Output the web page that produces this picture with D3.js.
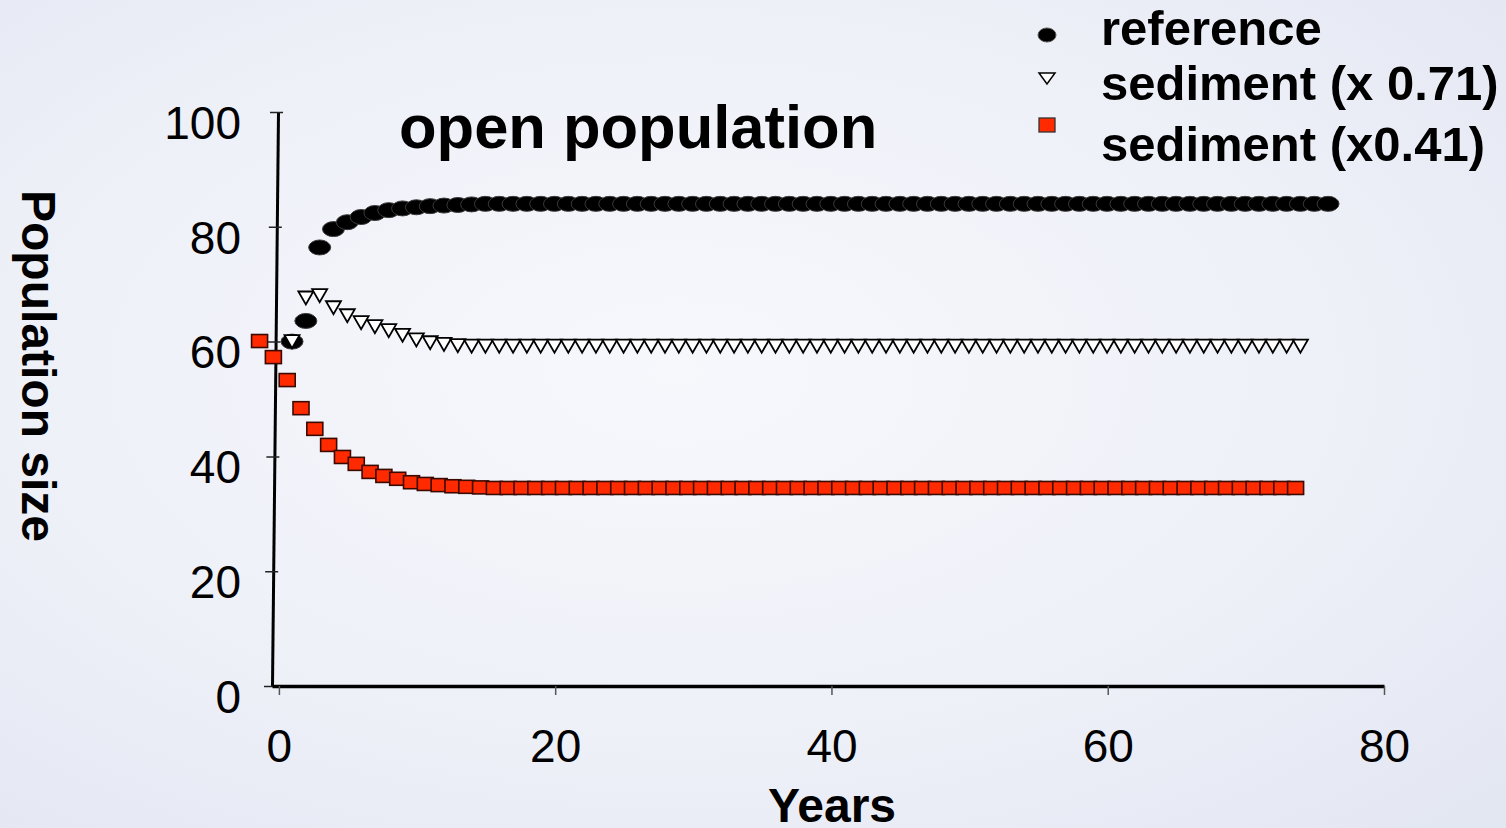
<!DOCTYPE html>
<html>
<head>
<meta charset="utf-8">
<script src="https://cdn.jsdelivr.net/npm/d3@7"></script>
<style>
  html, body { margin: 0; padding: 0; overflow: hidden; background: #fff; }
  #chart { width: 1506px; height: 828px; }
</style>
</head>
<body>
<div id="chart"></div>
<script>
// years of each series (yearly steps, offsets as they sit on the picture)
var referenceYears = d3.range(0.95, 76, 1);
var sediment71Years = d3.range(0.95, 74, 1);
var sediment41Years = d3.range(-1.4, 74, 1);

// population size
var referenceValues = [
  60.0, 63.6, 76.4, 79.6, 80.8, 81.7, 82.4, 82.9, 83.2, 83.4,
  83.6, 83.7, 83.8, 83.9, 84.0, 84.0, 84.0, 84.0, 84.0, 84.0,
  84.0, 84.0, 84.0, 84.0, 84.0, 84.0, 84.0, 84.0, 84.0, 84.0,
  84.0, 84.0, 84.0, 84.0, 84.0, 84.0, 84.0, 84.0, 84.0, 84.0,
  84.0, 84.0, 84.0, 84.0, 84.0, 84.0, 84.0, 84.0, 84.0, 84.0,
  84.0, 84.0, 84.0, 84.0, 84.0, 84.0, 84.0, 84.0, 84.0, 84.0,
  84.0, 84.0, 84.0, 84.0, 84.0, 84.0, 84.0, 84.0, 84.0, 84.0,
  84.0, 84.0, 84.0, 84.0, 84.0, 84.0
];
var sediment71Values = [
  60.0, 67.6, 68.0, 65.9, 64.5, 63.3, 62.6, 61.9, 61.1, 60.3,
  59.8, 59.5, 59.3, 59.2, 59.2, 59.2, 59.2, 59.2, 59.2, 59.2,
  59.2, 59.2, 59.2, 59.2, 59.2, 59.2, 59.2, 59.2, 59.2, 59.2,
  59.2, 59.2, 59.2, 59.2, 59.2, 59.2, 59.2, 59.2, 59.2, 59.2,
  59.2, 59.2, 59.2, 59.2, 59.2, 59.2, 59.2, 59.2, 59.2, 59.2,
  59.2, 59.2, 59.2, 59.2, 59.2, 59.2, 59.2, 59.2, 59.2, 59.2,
  59.2, 59.2, 59.2, 59.2, 59.2, 59.2, 59.2, 59.2, 59.2, 59.2,
  59.2, 59.2, 59.2, 59.2
];
var sediment41Values = [
  60.1, 57.3, 53.3, 48.4, 44.8, 42.0, 39.9, 38.7, 37.3, 36.6,
  36.1, 35.5, 35.2, 35.0, 34.8, 34.7, 34.6, 34.5, 34.5, 34.5,
  34.5, 34.5, 34.5, 34.5, 34.5, 34.5, 34.5, 34.5, 34.5, 34.5,
  34.5, 34.5, 34.5, 34.5, 34.5, 34.5, 34.5, 34.5, 34.5, 34.5,
  34.5, 34.5, 34.5, 34.5, 34.5, 34.5, 34.5, 34.5, 34.5, 34.5,
  34.5, 34.5, 34.5, 34.5, 34.5, 34.5, 34.5, 34.5, 34.5, 34.5,
  34.5, 34.5, 34.5, 34.5, 34.5, 34.5, 34.5, 34.5, 34.5, 34.5,
  34.5, 34.5, 34.5, 34.5, 34.5, 34.5
];

var xTicks = [0, 20, 40, 60, 80];
var yTicks = [0, 20, 40, 60, 80, 100];
var legendLabels = ["reference", "sediment (x 0.71)", "sediment (x0.41)"];

var width = 1506, height = 828;
var font = "'Liberation Sans', Arial, sans-serif";

var svg = d3.select("#chart")
  .append("svg")
    .attr("width", width)
    .attr("height", height);

// pale bluish background
var defs = svg.append("defs");
var bg = defs.append("radialGradient")
  .attr("id", "bg")
  .attr("cx", "45%").attr("cy", "45%").attr("r", "75%");
bg.append("stop").attr("offset", "0%").attr("stop-color", "#f7f8fc");
bg.append("stop").attr("offset", "60%").attr("stop-color", "#eef0f8");
bg.append("stop").attr("offset", "100%").attr("stop-color", "#e3e7f2");
svg.append("rect")
  .attr("width", width).attr("height", height)
  .attr("fill", "url(#bg)");

// scales
var x = d3.scaleLinear().domain([-0.5, 80]).range([272, 1384]);
var y = d3.scaleLinear().domain([0, 100]).range([686, 112]);

// y axis: line and ticks, slightly leaning like the original
var yAxisLine = svg.append("g")
  .attr("transform", "translate(272," + y(0) + ") skewX(-0.6) translate(0," + (-y(0)) + ")")
  .call(d3.axisLeft(y).tickValues(yTicks).tickFormat("").tickSizeInner(8).tickSizeOuter(0));
yAxisLine.select(".domain").attr("stroke", "#000").attr("stroke-width", 3);
yAxisLine.selectAll(".tick line").attr("x1", 5).attr("stroke", "#222").attr("stroke-width", 1.5);

// y tick labels
var yLabels = svg.append("g")
  .attr("transform", "translate(272,0)")
  .call(d3.axisLeft(y).tickValues(yTicks).tickSize(0).tickPadding(31));
yLabels.select(".domain").remove();
yLabels.selectAll("text")
  .attr("dy", "0.57em")
  .style("font-family", font)
  .style("font-size", "46px")
  .attr("fill", "#000");

// x axis
var xAxis = svg.append("g")
  .attr("transform", "translate(0," + y(0) + ")")
  .call(d3.axisBottom(x).tickValues(xTicks).tickSizeInner(9).tickSizeOuter(0).tickPadding(34));
xAxis.select(".domain").attr("stroke", "#000").attr("stroke-width", 3.5);
xAxis.selectAll(".tick line").attr("stroke", "#555").attr("stroke-width", 1.5);
xAxis.selectAll("text")
  .style("font-family", font)
  .style("font-size", "46px")
  .attr("fill", "#000");

// series markers
function rows(years, values) {
  return years.map(function(d, i) { return {year: d, value: values[i]}; });
}

svg.append("g").selectAll("ellipse")
  .data(rows(referenceYears, referenceValues))
  .enter().append("ellipse")
    .attr("cx", function(d) { return x(d.year); })
    .attr("cy", function(d) { return y(d.value); })
    .attr("rx", 11)
    .attr("ry", 7.5)
    .attr("fill", "#000")
    .attr("stroke", "#3a3a3a")
    .attr("stroke-width", 1);

svg.append("g").selectAll("path")
  .data(rows(sediment71Years, sediment71Values))
  .enter().append("path")
    .attr("d", "M-7.5,-6.5L7.5,-6.5L0,6.5Z")
    .attr("transform", function(d) { return "translate(" + x(d.year) + "," + y(d.value) + ")"; })
    .attr("fill", "#fff")
    .attr("stroke", "#000")
    .attr("stroke-width", 1.8)
    .attr("stroke-linejoin", "miter");

svg.append("g").selectAll("rect")
  .data(rows(sediment41Years, sediment41Values))
  .enter().append("rect")
    .attr("x", function(d) { return x(d.year) - 8; })
    .attr("y", function(d) { return y(d.value) - 6.5; })
    .attr("width", 16)
    .attr("height", 13)
    .attr("fill", "#ff2a00")
    .attr("stroke", "#3a0a00")
    .attr("stroke-width", 1.6);

// title
svg.append("text")
  .attr("x", 399)
  .attr("y", 148)
  .style("font-family", font)
  .style("font-weight", "bold")
  .style("font-size", "61.5px")
  .attr("fill", "#000")
  .text("open population");

// axis titles
svg.append("text")
  .attr("transform", "translate(22,366) rotate(90)")
  .attr("text-anchor", "middle")
  .style("font-family", font)
  .style("font-weight", "bold")
  .style("font-size", "48px")
  .attr("fill", "#000")
  .text("Population size");

svg.append("text")
  .attr("x", 832)
  .attr("y", 822)
  .attr("text-anchor", "middle")
  .style("font-family", font)
  .style("font-weight", "bold")
  .style("font-size", "48px")
  .attr("fill", "#000")
  .text("Years");

// legend
var legendMarkY = [35, 78, 125];
var legendTextY = [45, 100, 161];
var legend = svg.append("g");

legend.append("ellipse")
  .attr("cx", 1047).attr("cy", legendMarkY[0])
  .attr("rx", 9).attr("ry", 7)
  .attr("fill", "#000").attr("stroke", "#555").attr("stroke-width", 1);

legend.append("path")
  .attr("d", "M-8,-5L8,-5L0,6Z")
  .attr("transform", "translate(1047," + legendMarkY[1] + ")")
  .attr("fill", "#fff").attr("stroke", "#000").attr("stroke-width", 1.5);

legend.append("rect")
  .attr("x", 1039).attr("y", legendMarkY[2] - 7)
  .attr("width", 16).attr("height", 14)
  .attr("fill", "#ff2a00").attr("stroke", "#333").attr("stroke-width", 1.3);

legend.selectAll("text")
  .data(legendLabels)
  .enter().append("text")
    .attr("x", 1101)
    .attr("y", function(d, i) { return legendTextY[i]; })
    .style("font-family", font)
    .style("font-weight", "bold")
    .style("font-size", "49px")
    .attr("fill", "#000")
    .text(function(d) { return d; });
</script>
</body>
</html>
